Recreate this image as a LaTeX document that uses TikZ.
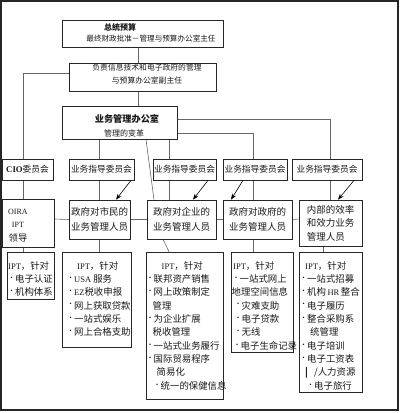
\documentclass[tikz,border=0pt]{standalone}
\usepackage{fontspec}
\setmainfont{Noto Sans CJK SC}
\newfontfamily\lat{Liberation Serif}
\usetikzlibrary{arrows.meta,backgrounds}
\newcommand\bu{\raisebox{2.2pt}{\fontsize{7}{7}\selectfont •}}
\newcommand\la[1]{{\lat\fontsize{8.5}{13.35}\selectfont #1}}
\begin{document}
\begin{tikzpicture}[x=1pt,y=-1pt,
  box/.style={draw=black!85,line width=0.7pt,fill=white,inner sep=0pt,rectangle},
  conn/.style={draw=black!60,line width=0.6pt},
  arr/.style={draw=black,line width=0.6pt,-{Stealth[length=6pt,width=4.5pt]}},
  txt/.style={inner sep=0pt,text=black!90},
  cmt/.style={box,minimum height=21pt,font=\fontsize{8.7}{10}\selectfont,text=black!90},
  mid/.style={box,align=center,font=\fontsize{9.5}{15}\selectfont,text=black!90},
  lst/.style={txt,align=left,anchor=north west,font=\fontsize{9.4}{13.35}\selectfont}]
\useasboundingbox (0,0) rectangle (400,413);
\draw[line width=1.2pt,black!85] (1,1) rectangle (398,410);

% top boxes
\node[box,minimum width=161pt,minimum height=27pt] (b1) at (142.5,33.5) {};
\node[txt,font=\bfseries\fontsize{8}{9}\selectfont] (b1a) at (120,27) {总统预算};
\node[txt,font=\fontsize{7.6}{9}\selectfont] (b1b) at (151,39) {最终财政批准－管理与预算办公室主任};

\node[box,minimum width=147pt,minimum height=28pt] (b2) at (142.5,77) {};
\node[txt,font=\fontsize{7.8}{9}\selectfont] (b2a) at (147,68) {负责信息技术和电子政府的管理};
\node[txt,font=\fontsize{7.8}{9}\selectfont] (b2b) at (147,81) {与预算办公室副主任};

\node[box,minimum width=115pt,minimum height=33pt] (b3) at (119.5,122.5) {};
\node[txt,font=\bfseries\fontsize{9.2}{11}\selectfont] (b3a) at (127,119) {业务管理办公室};
\node[txt,font=\fontsize{8}{9}\selectfont] (b3b) at (124,133) {管理的变革};

% committees
\node[cmt,minimum width=51pt] (c1) at (27.5,169.5) {{\lat\bfseries\fontsize{8.7}{10}\selectfont CIO}委员会};
\node[cmt,minimum width=65pt] (c2) at (101.5,169.5) {业务指导委员会};
\node[cmt,minimum width=63pt] (c3) at (184.5,169.5) {业务指导委员会};
\node[cmt,minimum width=64pt] (c4) at (255,169.5) {业务指导委员会};
\node[cmt,minimum width=70pt] (c5) at (327,169.5) {业务指导委员会};

% middle row
\node[box,minimum width=52pt,minimum height=48pt] (m1) at (28,223) {};
\node[txt,align=center,font=\fontsize{9.3}{13.5}\selectfont] (m1t) at (18,225.5)
  {{\lat\fontsize{8}{13.5}\selectfont OIRA}\\{\lat\fontsize{8}{13.5}\selectfont IPT}\\领导};
\node[mid,minimum width=61pt,minimum height=39pt] (m2) at (99.5,219.5) {政府对市民的\\业务管理人员};
\node[mid,minimum width=69pt,minimum height=39pt] (m3) at (181.5,219.5) {政府对企业的\\业务管理人员};
\node[mid,minimum width=69pt,minimum height=39pt] (m4) at (257.5,219.5) {政府对政府的\\业务管理人员};
\node[mid,align=left,minimum width=63pt,minimum height=46pt,font=\fontsize{9.5}{13.5}\selectfont] (m5) at (330.5,223) {内部的效率\\和效力业务\\管理人员};

% bottom row
\node[box,minimum width=47pt,minimum height=47pt] (p1) at (30.5,275.5) {};
\node[lst] (p1t) at (8,261) {\la{IPT}，针对\\\bu 电子认证\\\bu 机构体系};

\node[box,minimum width=69pt,minimum height=95pt] (p2) at (96.5,299.5) {};
\node[lst] (p2t) at (67,261) {\hspace*{10pt}\la{IPT}，针对\\\bu\la{USA} 服务\\\bu\la{EZ}税收申报\\\bu 网上获取贷款\\\bu 一站式娱乐\\\bu 网上合格支助};

\node[box,minimum width=77pt,minimum height=147pt] (p3) at (184.5,325.5) {};
\node[lst] (p3t) at (146.5,261) {\hspace*{15pt}\la{IPT}，针对\\\bu 联邦资产销售\\\bu 网上政策制定\\\hspace*{6pt}管理\\\bu 为企业扩展\\\hspace*{6pt}税收管理\\\bu 一站式业务履行\\\bu 国际贸易程序\\\hspace*{10pt}简易化\\\hspace*{7pt}\bu 统一的保健信息};

\node[box,minimum width=62pt,minimum height=100pt] (p4) at (262,302) {};
\node[lst] (p4t) at (231.5,261) {\hspace*{1.5pt}\la{IPT}，针对\\\hspace*{1pt}\bu 一站式网上\\地理空间信息\\\hspace*{3pt}\bu 灾难支助\\\hspace*{3pt}\bu 电子贷款\\\hspace*{3pt}\bu 无线\\\hspace*{2pt}\bu 电子生命记录};

\node[box,minimum width=63pt,minimum height=140pt] (p5) at (330.5,322) {};
\node[lst] (p5t) at (300,261) {\hspace*{5pt}\la{IPT}，针对\\\bu 一站式招募\\\bu 机构\,\la{HR}\,整合\\\bu 电子履历\\\bu 整合采购系\\\hspace*{10pt}统管理\\\bu 电子培训\\\bu 电子工资表\\\hspace*{5pt}\textbf{|}\hspace*{6pt}/人力资源\\\hspace*{7pt}\bu 电子旅行};

% connectors behind the boxes
\begin{scope}[on background layer]
\draw[conn] ([xshift=-4.5pt]b1.south) -- ([xshift=-4.5pt]b2.north);
\draw[conn] ([xshift=-4.5pt]b2.south) -- ([xshift=-4.5pt]b2.south |- b3.north);
\draw[conn] ([yshift=4pt]b2.west) -| ([xshift=-4.5pt]c1.north);
\draw[conn] ([xshift=-4.5pt]c1.south) -- ([xshift=-4.5pt]c1.south |- m1.north);
\draw[conn] ([xshift=-5pt]m1.south) -- ([xshift=-5pt]m1.south |- p1.north);
\draw[conn] (b3.south -| m2.north) -- (m2.north);
\draw[conn] ([xshift=26.5pt]b3.south) -- ([xshift=-27.5pt]m3.north);
\draw[conn] ([xshift=-12.5pt]m3.north |- b3.south) -- ([xshift=-12.5pt]m3.north);
\draw[conn] ([yshift=-10.5pt]b3.east) -| ([xshift=-4.5pt]m4.north);
\draw[conn] ([yshift=3.5pt]b3.east) -| (m5.north);
\draw[conn] ([yshift=4pt]m1.east) -- (m2.west);
\draw[conn] (m2.east) -- (m3.west);
\draw[conn] (m3.east) -- (m4.west);
\draw[conn] (m4.east) -- ([yshift=4pt]m5.west);
\draw[conn] (m2.south) -- (m2.south |- p2.north);
\draw[conn] ([xshift=-18.5pt]m3.south) -- ([xshift=-15.5pt]p3.north);
\draw[conn] ([xshift=-4.5pt]m4.south) -- ([xshift=-4.5pt]m4.south |- p4.north);
\draw[conn] ([xshift=-7.5pt]m5.south) -- ([xshift=-7.5pt]m5.south |- p5.north);
\end{scope}

% arrows
\draw[arr] ([xshift=29.5pt]c2.south) -- ([xshift=16.5pt]m2.north);
\draw[arr] ([xshift=23.5pt]c3.south) -- ([xshift=11.5pt]m3.north);
\draw[arr] ([xshift=-12pt]c4.south) -- ([xshift=-26.5pt]m4.north);
\draw[arr] ([xshift=27pt]c5.south) -- ([xshift=7.5pt]m5.north);
\end{tikzpicture}
\end{document}
